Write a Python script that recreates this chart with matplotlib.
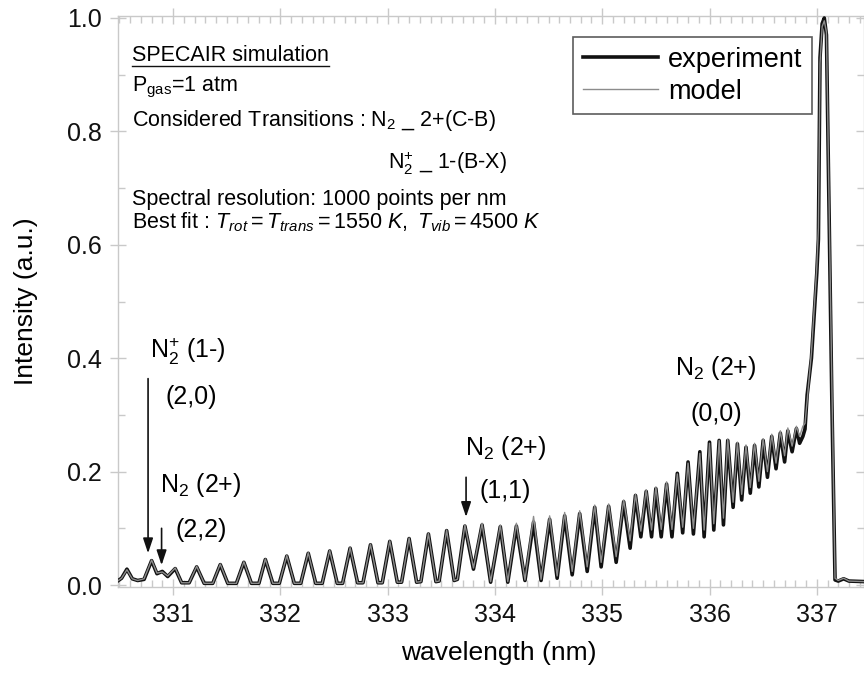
import matplotlib
matplotlib.use("Agg")
import matplotlib.pyplot as plt
from matplotlib.ticker import MultipleLocator, FormatStrFormatter
from matplotlib.lines import Line2D

plt.rcParams['font.family'] = ['Liberation Sans', 'DejaVu Sans']
plt.rcParams['mathtext.fontset'] = 'custom'
plt.rcParams['mathtext.rm'] = 'Liberation Sans'
plt.rcParams['mathtext.it'] = 'Liberation Sans:italic'
plt.rcParams['mathtext.bf'] = 'Liberation Sans:bold'

# Spectrum sampled at its local maxima / minima (nm, normalised intensity)
wavelength = [
    330.49, 330.52, 330.57, 330.62, 330.67, 330.73, 330.80, 330.85, 330.90, 330.95, 331.02, 331.08,
    331.15, 331.22, 331.29, 331.37, 331.44, 331.51, 331.59, 331.66, 331.73, 331.80, 331.86, 331.93,
    331.99, 332.06, 332.13, 332.19, 332.26, 332.33, 332.39, 332.46, 332.53, 332.58, 332.65, 332.72,
    332.77, 332.84, 332.91, 332.95, 333.02, 333.09, 333.13, 333.20, 333.27, 333.31, 333.38, 333.45,
    333.48, 333.55, 333.62, 333.65, 333.72, 333.80, 333.88, 333.96, 334.05, 334.12, 334.20, 334.28,
    334.36, 334.43, 334.51, 334.58, 334.65, 334.72, 334.79, 334.86, 334.93, 334.99, 335.06, 335.13,
    335.20, 335.26, 335.31, 335.36, 335.41, 335.46, 335.50, 335.55, 335.60, 335.65, 335.70, 335.75,
    335.80, 335.85, 335.91, 335.95, 336.00, 336.04, 336.09, 336.13, 336.17, 336.22, 336.26, 336.30,
    336.34, 336.38, 336.42, 336.46, 336.50, 336.54, 336.58, 336.62, 336.66, 336.70, 336.73, 336.77,
    336.81, 336.84, 336.87, 336.89, 336.91, 336.95, 336.97, 337.00, 337.015, 337.03,
    337.05, 337.07, 337.09, 337.14, 337.17, 337.20, 337.25, 337.30, 337.45,
]

experiment = [
    0.008, 0.012, 0.028, 0.011, 0.008, 0.010, 0.043, 0.020, 0.024, 0.015, 0.029, 0.004,
    0.004, 0.032, 0.003, 0.003, 0.036, 0.003, 0.003, 0.040, 0.003, 0.003, 0.045, 0.003,
    0.003, 0.051, 0.003, 0.003, 0.056, 0.003, 0.003, 0.060, 0.003, 0.003, 0.065, 0.004,
    0.004, 0.071, 0.004, 0.004, 0.077, 0.005, 0.005, 0.082, 0.005, 0.006, 0.090, 0.006,
    0.007, 0.096, 0.008, 0.010, 0.104, 0.028, 0.106, 0.005, 0.103, 0.005, 0.104, 0.008,
    0.111, 0.008, 0.116, 0.012, 0.122, 0.018, 0.126, 0.024, 0.137, 0.032, 0.139, 0.040,
    0.147, 0.065, 0.158, 0.085, 0.165, 0.085, 0.170, 0.085, 0.178, 0.085, 0.197, 0.092,
    0.217, 0.090, 0.235, 0.085, 0.252, 0.097, 0.255, 0.106, 0.255, 0.137, 0.249, 0.150,
    0.243, 0.162, 0.246, 0.173, 0.255, 0.190, 0.262, 0.205, 0.268, 0.217, 0.272, 0.235,
    0.276, 0.250, 0.262, 0.275, 0.335, 0.400, 0.460, 0.550, 0.610, 0.930,
    0.990, 1.000, 0.970, 0.330, 0.009, 0.007, 0.011, 0.007, 0.006,
]

model = [
    0.008, 0.012, 0.027, 0.011, 0.008, 0.011, 0.044, 0.021, 0.023, 0.016, 0.030, 0.004,
    0.004, 0.033, 0.003, 0.003, 0.037, 0.003, 0.003, 0.041, 0.003, 0.003, 0.046, 0.003,
    0.003, 0.052, 0.003, 0.003, 0.057, 0.003, 0.003, 0.061, 0.003, 0.003, 0.066, 0.004,
    0.004, 0.072, 0.004, 0.004, 0.078, 0.005, 0.005, 0.083, 0.005, 0.006, 0.091, 0.006,
    0.007, 0.097, 0.008, 0.010, 0.106, 0.030, 0.109, 0.006, 0.106, 0.006, 0.109, 0.009,
    0.121, 0.010, 0.122, 0.016, 0.128, 0.024, 0.131, 0.032, 0.141, 0.040, 0.143, 0.050,
    0.150, 0.078, 0.160, 0.095, 0.168, 0.097, 0.173, 0.098, 0.182, 0.098, 0.196, 0.102,
    0.215, 0.100, 0.232, 0.097, 0.250, 0.108, 0.255, 0.118, 0.257, 0.146, 0.252, 0.160,
    0.247, 0.172, 0.250, 0.183, 0.258, 0.200, 0.266, 0.215, 0.272, 0.228, 0.277, 0.245,
    0.280, 0.262, 0.280, 0.285, 0.325, 0.410, 0.470, 0.560, 0.630, 0.920,
    0.985, 0.995, 0.975, 0.360, 0.012, 0.008, 0.012, 0.007, 0.006,
]

x_ticks = [331, 332, 333, 334, 335, 336, 337]
y_ticks = [0.0, 0.2, 0.4, 0.6, 0.8, 1.0]

fig = plt.figure(figsize=(8.64, 6.78), dpi=100)
ax = fig.add_axes([0.1366, 0.1342, 0.8634, 0.8422])

ax.plot(wavelength, experiment, color='#111111', lw=2.6, label='experiment',
        solid_joinstyle='round', zorder=3)
ax.plot(wavelength, model, color='#8c8c8c', lw=1.0, label='model',
        solid_joinstyle='round', zorder=4)

ax.set_xlim(330.487, 337.44)
ax.set_ylim(-0.0035, 1.0035)
ax.set_xticks(x_ticks)
ax.set_yticks(y_ticks)
ax.xaxis.set_minor_locator(MultipleLocator(0.1))
ax.yaxis.set_minor_locator(MultipleLocator(0.1))
ax.yaxis.set_major_formatter(FormatStrFormatter('%.1f'))

spine_c = '#c9c9c9'
for s in ax.spines.values():
    s.set_color(spine_c)
    s.set_linewidth(1.0)

ax.tick_params(which='major', direction='inout', length=11, width=1.0, color=spine_c,
               labelsize=18, labelcolor='#111111', top=True, right=True, pad=6)
ax.tick_params(which='minor', direction='in', length=5, width=1.0, color=spine_c,
               top=True, right=True)

ax.set_xlabel('wavelength (nm)', fontsize=19)
ax.set_ylabel('Intensity (a.u.)', fontsize=19)
ax.xaxis.set_label_coords(0.511, -0.095)
ax.yaxis.set_label_coords(-0.107, 0.5)

leg = ax.legend(loc='upper left', bbox_to_anchor=(0.610, 0.963), fontsize=19.5,
                frameon=True, fancybox=False, edgecolor='#333333', handlelength=2.8,
                handletextpad=0.35, labelspacing=0.22, borderpad=0.35, borderaxespad=0.0)
leg.get_frame().set_linewidth(1.2)

# Simulation summary block
fs_info = 15.5
ax.text(330.62, 0.925, 'SPECAIR simulation', fontsize=fs_info, va='baseline')
ax.text(330.62, 0.871, r'P$_{\mathregular{gas}}$=1 atm', fontsize=fs_info, va='baseline')
ax.text(330.62, 0.810, r'Considered Transitions : N$_{\mathregular{2}}$ _ 2+(C-B)',
        fontsize=fs_info, va='baseline')
ax.text(333.0, 0.734, r'N$_{\mathregular{2}}^{\mathregular{+}}$ _ 1-(B-X)',
        fontsize=fs_info, va='baseline')
ax.text(330.62, 0.670, 'Spectral resolution: 1000 points per nm', fontsize=fs_info,
        va='baseline')
ax.text(330.62, 0.629,
        r'Best fit : $\mathit{T}_{\mathit{rot}}{=}\mathit{T}_{\mathit{trans}}{=}'
        r'\mathit{1550\ K,\ T}_{\mathit{vib}}{=}\mathit{4500\ K}$',
        fontsize=fs_info, va='baseline')

fig.canvas.draw()
ttl = ax.texts[0]
bb = ttl.get_window_extent(renderer=fig.canvas.get_renderer())
inv = fig.transFigure.inverted()
(x0, y0), (x1, _) = inv.transform([(bb.x0, bb.y0), (bb.x1, bb.y0)])
fig.add_artist(Line2D([x0, x1], [y0 - 0.001, y0 - 0.001], transform=fig.transFigure,
                      color='#111111', lw=1.0))

# Band assignments
fs_band = 18
ax.text(330.786, 0.401, r'N$_{\mathregular{2}}^{\mathregular{+}}$ (1-)', fontsize=fs_band, va='baseline')
ax.text(330.925, 0.320, '(2,0)', fontsize=fs_band, va='baseline')
ax.text(330.879, 0.164, r'N$_{\mathregular{2}}$ (2+)', fontsize=fs_band, va='baseline')
ax.text(331.019, 0.0845, '(2,2)', fontsize=fs_band, va='baseline')
ax.text(333.72, 0.229, r'N$_{\mathregular{2}}$ (2+)', fontsize=fs_band, va='baseline')
ax.text(333.86, 0.153, '(1,1)', fontsize=fs_band, va='baseline')
ax.text(335.68, 0.370, r'N$_{\mathregular{2}}$ (2+)', fontsize=fs_band, va='baseline')
ax.text(335.82, 0.290, '(0,0)', fontsize=fs_band, va='baseline')

arrow_kw = dict(arrowstyle='-|>,head_length=0.9,head_width=0.3', color='#111111', lw=1.2,
                shrinkA=0, shrinkB=0)
ax.annotate('', xy=(330.767, 0.056), xytext=(330.767, 0.364), arrowprops=arrow_kw)
ax.annotate('', xy=(330.893, 0.035), xytext=(330.893, 0.100), arrowprops=arrow_kw)
ax.annotate('', xy=(333.731, 0.120), xytext=(333.731, 0.190), arrowprops=arrow_kw)

fig.savefig('out.png', dpi=100)
